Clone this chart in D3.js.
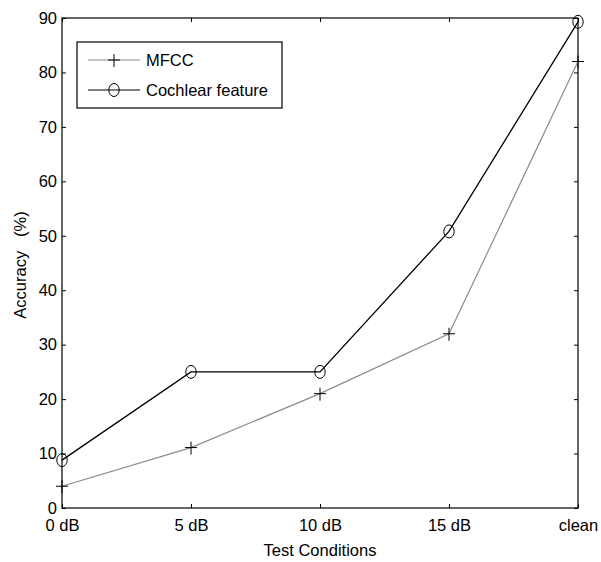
<!DOCTYPE html>
<html><head><meta charset="utf-8">
<script src="https://cdn.jsdelivr.net/npm/d3@7"></script>
<style>body{margin:0;background:#fff}svg{display:block}text{font-family:"Liberation Sans",Arial,sans-serif;fill:#000}</style>
</head><body>
<svg id="c" width="601" height="562"></svg>
<script>
const categories = ["0 dB","5 dB","10 dB","15 dB","clean"];
const mfcc = [4, 11.1, 21, 32, 82];
const cochlear = [8.8, 25, 25, 50.8, 89.3];
const yTicks = [0,10,20,30,40,50,60,70,80,90];
const seriesNames = ["MFCC","Cochlear feature"];

const svg = d3.select("#c");
const L=62, R=578, T=18, B=508;
const x = d3.scalePoint().domain(categories).range([L,R]);
const y = d3.scaleLinear().domain([0,90]).range([B,T]);
const fs = 16.5;

// frame
svg.append("rect").attr("x",L).attr("y",T).attr("width",R-L).attr("height",B-T)
  .attr("fill","none").attr("stroke","#000").attr("stroke-width",1.2);

// axes with inward ticks
const gl = svg.append("g").attr("transform",`translate(${L},0)`)
  .call(d3.axisLeft(y).tickValues(yTicks).tickSize(-4).tickPadding(5));
const gr = svg.append("g").attr("transform",`translate(${R},0)`)
  .call(d3.axisRight(y).tickValues(yTicks).tickSize(-4).tickFormat(""));
const gb = svg.append("g").attr("transform",`translate(0,${B})`)
  .call(d3.axisBottom(x).tickSize(-4).tickPadding(11));
const gt = svg.append("g").attr("transform",`translate(0,${T})`)
  .call(d3.axisTop(x).tickSize(-4).tickFormat(""));
[gl,gr,gb,gt].forEach(g=>{
  g.select(".domain").remove();
  g.selectAll(".tick line").attr("stroke","#000");
  g.selectAll("text").attr("font-size",fs).attr("font-family","Liberation Sans, Arial, sans-serif").attr("fill","#000");
});

// axis titles
svg.append("text").attr("x",(L+R)/2).attr("y",556).attr("text-anchor","middle")
  .attr("font-size",fs).text("Test Conditions");
svg.append("text").attr("transform",`translate(26,265) rotate(-90)`)
  .attr("text-anchor","middle").attr("font-size",fs).attr("xml:space","preserve").text("Accuracy   (%)");

const line = d3.line().x((d,i)=>x(categories[i])).y(d=>y(d));

function plus(g,cx,cy,color){
  g.append("line").attr("x1",cx-6).attr("x2",cx+6).attr("y1",cy).attr("y2",cy).attr("stroke",color).attr("stroke-width",1);
  g.append("line").attr("x1",cx).attr("x2",cx).attr("y1",cy-6).attr("y2",cy+7).attr("stroke",color).attr("stroke-width",1);
}
function circ(g,cx,cy){
  g.append("ellipse").attr("cx",cx).attr("cy",cy).attr("rx",5.2).attr("ry",6.5)
    .attr("fill","none").attr("stroke","#000").attr("stroke-width",1);
}

const gM = svg.append("g");
gM.append("path").datum(mfcc).attr("d",line).attr("fill","none").attr("stroke","#8c8c8c").attr("stroke-width",1.2);
mfcc.forEach((v,i)=>plus(gM,x(categories[i]),y(v),"#000"));

const gC = svg.append("g");
gC.append("path").datum(cochlear).attr("d",line).attr("fill","none").attr("stroke","#000").attr("stroke-width",1.3);
cochlear.forEach((v,i)=>circ(gC,x(categories[i]),y(v)));

// legend
const lg = svg.append("g");
lg.append("rect").attr("x",77).attr("y",42).attr("width",205).attr("height",66)
  .attr("fill","#fff").attr("stroke","#000").attr("stroke-width",1.2);
const rows = [{y:60,color:"#8c8c8c",m:"plus"},{y:90,color:"#000",m:"circ"}];
rows.forEach((r,i)=>{
  lg.append("line").attr("x1",88).attr("x2",140).attr("y1",r.y).attr("y2",r.y).attr("stroke",r.color).attr("stroke-width",1.2);
  if(r.m==="plus") plus(lg,114,r.y,"#000"); else circ(lg,114,r.y);
  lg.append("text").attr("x",146).attr("y",r.y+6).attr("font-size",fs).text(seriesNames[i]);
});
</script>
</body></html>
